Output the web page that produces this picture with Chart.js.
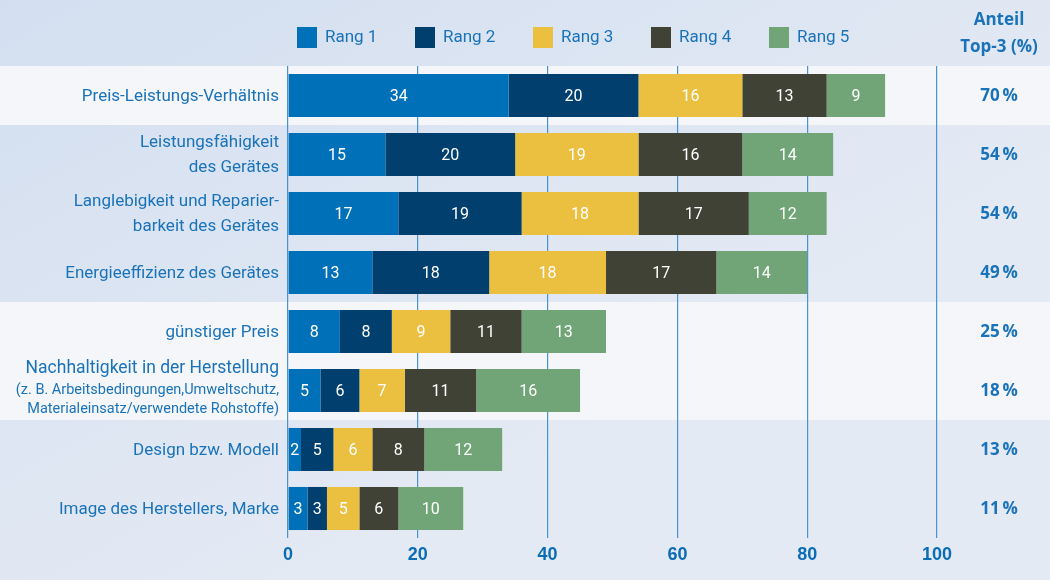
<!DOCTYPE html>
<html lang="de">
<head>
<meta charset="UTF-8">
<title>Kaufkriterien Rangfolge</title>
<script src="https://cdn.jsdelivr.net/npm/chart.js@4.4.0/dist/chart.umd.min.js"></script>
<style>
  html, body { margin: 0; padding: 0; }
  #wrap { width: 1050px; height: 580px; }
</style>
</head>
<body>
<div id="wrap"><canvas id="chart"></canvas></div>
<script>
// Kriterien (mehrzeilig), Werte je Rang, Anteil Top-3
const kriterien = [
  ['Preis-Leistungs-Verhältnis'],
  ['Leistungsfähigkeit', 'des Gerätes'],
  ['Langlebigkeit und Reparier-', 'barkeit des Gerätes'],
  ['Energieeffizienz des Gerätes'],
  ['günstiger Preis'],
  ['Nachhaltigkeit in der Herstellung', '(z. B. Arbeitsbedingungen,Umweltschutz,', 'Materialeinsatz/verwendete Rohstoffe)'],
  ['Design bzw. Modell'],
  ['Image des Herstellers, Marke']
];
const rang1 = [34, 15, 17, 13, 8, 5, 2, 3];
const rang2 = [20, 20, 19, 18, 8, 6, 5, 3];
const rang3 = [16, 19, 18, 18, 9, 7, 6, 5];
const rang4 = [13, 16, 17, 17, 11, 11, 8, 6];
const rang5 = [9, 14, 12, 14, 13, 16, 12, 10];
const top3 = [70, 54, 54, 49, 25, 18, 13, 11];
const rangNamen = ['Rang 1', 'Rang 2', 'Rang 3', 'Rang 4', 'Rang 5'];
const farben = ['#0070b8', '#003f6e', '#ebbf3f', '#414236', '#71a577'];
const helleZeilen = [0, 4, 5];

const BLAU = '#1a73b9';
const NARROW = '"Roboto", sans-serif';
const WIDE = '"Open Sans", "Liberation Sans", sans-serif';

// Hintergrund und Streifen
const hintergrund = {
  id: 'hintergrund',
  beforeDraw(chart) {
    const { ctx, width, height } = chart;
    const y = chart.scales.y;
    ctx.save();
    const g = ctx.createLinearGradient(0, 0, width * 0.3, height);
    g.addColorStop(0, '#d3dff0');
    g.addColorStop(1, '#e4eaf4');
    ctx.fillStyle = g;
    ctx.fillRect(0, 0, width, height);
    const step = (y.bottom - y.top) / kriterien.length;
    ctx.fillStyle = '#f4f6fa';
    helleZeilen.forEach(i => {
      const c = y.getPixelForValue(i);
      ctx.fillRect(0, c - step / 2, width, step);
    });
    ctx.restore();
  }
};

// Beschriftungen, Legende, Werte, Top-3-Spalte
const beschriftung = {
  id: 'beschriftung',
  afterDatasetsDraw(chart) {
    const { ctx } = chart;
    const y = chart.scales.y;
    ctx.save();

    // Werte in den Segmenten
    ctx.font = '16px ' + NARROW;
    ctx.fillStyle = '#ffffff';
    ctx.textAlign = 'center';
    ctx.textBaseline = 'middle';
    chart.data.datasets.forEach((ds, di) => {
      chart.getDatasetMeta(di).data.forEach((bar, i) => {
        ctx.fillText(String(ds.data[i]), (bar.x + bar.base) / 2, bar.y + 1);
      });
    });

    // Kategorien links
    ctx.textAlign = 'right';
    ctx.fillStyle = BLAU;
    kriterien.forEach((zeilen, i) => {
      const c = y.getPixelForValue(i);
      const xr = y.right - 9;
      if (zeilen.length === 3) {
        ctx.font = '17.5px ' + NARROW;
        ctx.fillText(zeilen[0], xr, c - 22);
        ctx.font = '14.5px ' + NARROW;
        ctx.fillText(zeilen[1], xr, c);
        ctx.fillText(zeilen[2], xr, c + 19);
      } else {
        ctx.font = '17px ' + NARROW;
        const off = (zeilen.length - 1) * 12.5;
        zeilen.forEach((t, k) => ctx.fillText(t, xr, c - off + k * 25 + 1));
      }
    });

    // Top-3-Spalte
    ctx.textAlign = 'center';
    ctx.font = 'bold 17px ' + WIDE;
    ctx.fillText('Anteil', 999, 20);
    ctx.fillText('Top-3 (%)', 999, 47);
    top3.forEach((v, i) => {
      ctx.fillText(v + '\u2009%', 999, y.getPixelForValue(i) + 1);
    });

    // Legende
    ctx.textAlign = 'left';
    ctx.font = '17px ' + NARROW;
    rangNamen.forEach((n, k) => {
      const x0 = 297 + k * 118;
      ctx.fillStyle = farben[k];
      ctx.fillRect(x0, 27, 20, 21);
      ctx.fillStyle = BLAU;
      ctx.fillText(n, x0 + 28, 38);
    });
    ctx.restore();
  }
};

const reihen = [rang1, rang2, rang3, rang4, rang5];

new Chart(document.getElementById('chart'), {
  type: 'bar',
  data: {
    labels: kriterien.map(z => z.join(' ')),
    datasets: reihen.map((d, k) => ({
      label: rangNamen[k],
      data: d,
      backgroundColor: farben[k],
      borderWidth: 0,
      categoryPercentage: 1,
      barPercentage: 0.73
    }))
  },
  options: {
    indexAxis: 'y',
    responsive: true,
    maintainAspectRatio: false,
    animation: false,
    layout: { padding: { top: 66, right: 113, left: 0, bottom: 0 } },
    plugins: {
      legend: { display: false },
      tooltip: { enabled: false }
    },
    scales: {
      x: {
        stacked: true,
        min: 0,
        max: 100,
        ticks: {
          stepSize: 20,
          padding: 6,
          color: '#0a6cb5',
          font: { family: '"Liberation Sans", Arial, sans-serif', size: 18, weight: 'bold' }
        },
        grid: { color: '#4a93d3', lineWidth: 1.2, drawTicks: false },
        border: { display: false },
        afterFit(s) { s.height = 42; }
      },
      y: {
        stacked: true,
        ticks: { display: false },
        grid: { display: false },
        border: { display: false },
        afterFit(s) { s.width = 288; }
      }
    }
  },
  plugins: [hintergrund, beschriftung]
});
</script>
</body>
</html>
